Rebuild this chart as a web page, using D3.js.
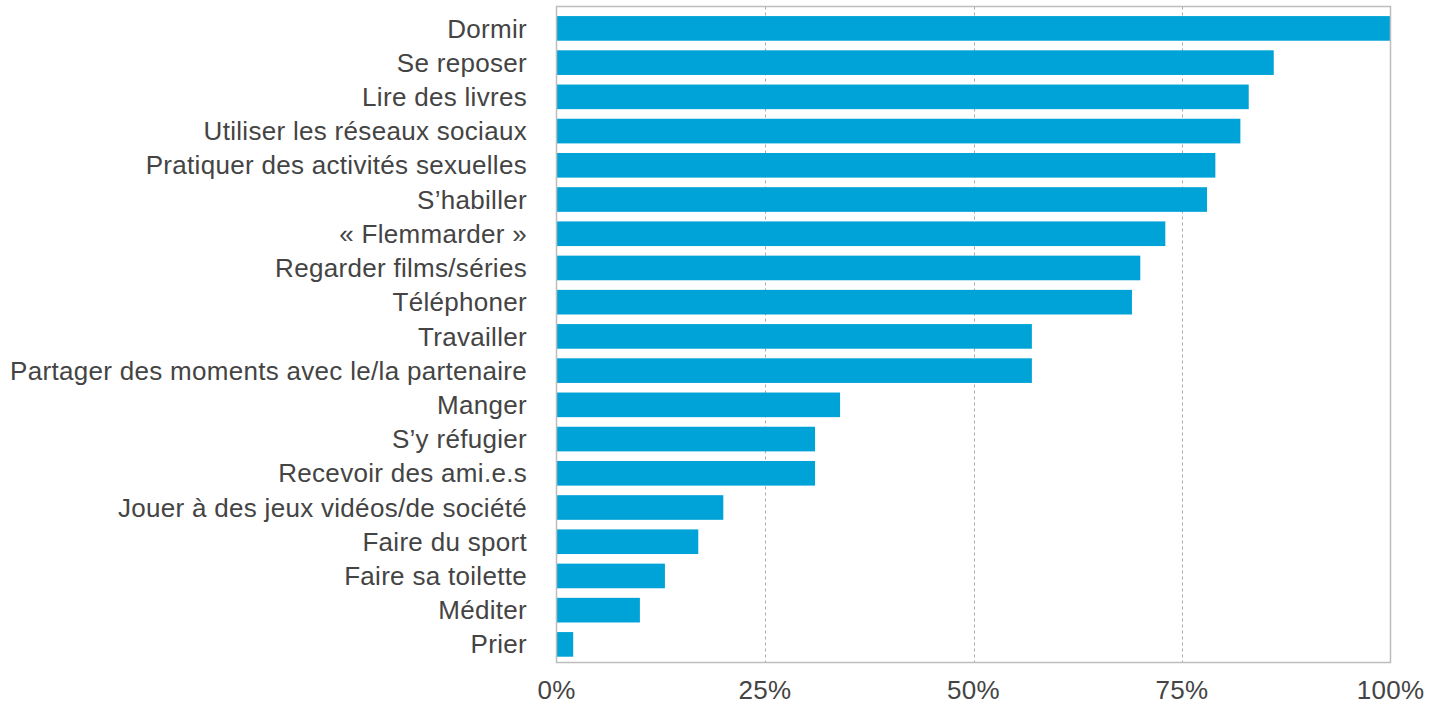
<!DOCTYPE html>
<html>
<head>
<meta charset="utf-8">
<script src="https://cdn.jsdelivr.net/npm/d3@7"></script>
<style>
  body { margin: 0; background: #fff; }
  .lbl { font-family: "Liberation Sans", Arial, sans-serif; font-size: 26px; letter-spacing: 0.3px; fill: #444; }
  .tick-lbl { font-family: "Liberation Sans", Arial, sans-serif; font-size: 26px; letter-spacing: 0.3px; fill: #444; }
</style>
</head>
<body>
<div id="chart"></div>
<script>
var activities = ["Dormir", "Se reposer", "Lire des livres", "Utiliser les réseaux sociaux",
    "Pratiquer des activités sexuelles", "S’habiller", "« Flemmarder »", "Regarder films/séries",
    "Téléphoner", "Travailler", "Partager des moments avec le/la partenaire", "Manger",
    "S’y réfugier", "Recevoir des ami.e.s", "Jouer à des jeux vidéos/de société",
    "Faire du sport", "Faire sa toilette", "Méditer", "Prier"];
var percents = [100, 86, 83, 82, 79, 78, 73, 70, 69, 57, 57, 34, 31, 31, 20, 17, 13, 10, 2];
var ticks = [0, 25, 50, 75, 100];

var width = 1445,
    height = 706,
    plotLeft = 556.5,
    plotRight = 1390.5,
    plotTop = 6.5,
    plotBottom = 662.5;

var data = activities.map(function (a, i) { return { name: a, value: percents[i] }; });

var svg = d3.select("#chart").append("svg")
    .attr("width", width)
    .attr("height", height);

var x = d3.scaleLinear().domain([0, 100]).range([plotLeft, plotRight]);

var y = d3.scaleBand()
    .domain(activities)
    .range([11.3, 661.5])
    .paddingInner(0.28)
    .paddingOuter(0.14);

// dashed grid lines
svg.append("g").selectAll("line")
    .data(ticks.filter(function (t) { return t > 0 && t < 100; }))
    .enter().append("line")
    .attr("x1", function (d) { return Math.round(x(d)) + 0.5; })
    .attr("x2", function (d) { return Math.round(x(d)) + 0.5; })
    .attr("y1", plotTop)
    .attr("y2", plotBottom)
    .attr("stroke", "#aaa")
    .attr("stroke-width", 1)
    .attr("stroke-dasharray", "3,3");

// bars
svg.append("g").selectAll("rect")
    .data(data)
    .enter().append("rect")
    .attr("x", x(0))
    .attr("y", function (d) { return y(d.name); })
    .attr("width", function (d) { return x(d.value) - x(0); })
    .attr("height", y.bandwidth())
    .attr("fill", "#00a3d8");

// frame
svg.append("rect")
    .attr("x", plotLeft)
    .attr("y", plotTop)
    .attr("width", plotRight - plotLeft)
    .attr("height", plotBottom - plotTop)
    .attr("fill", "none")
    .attr("stroke", "#bdbdbd")
    .attr("stroke-width", 1.5);

// category labels
svg.append("g").selectAll("text")
    .data(data)
    .enter().append("text")
    .attr("class", "lbl")
    .attr("x", 527)
    .attr("y", function (d) { return y(d.name) + y.bandwidth() / 2; })
    .attr("dy", ".35em")
    .attr("text-anchor", "end")
    .text(function (d) { return d.name; });

// x tick labels
svg.append("g").selectAll("text")
    .data(ticks)
    .enter().append("text")
    .attr("class", "tick-lbl")
    .attr("x", function (d) { return x(d); })
    .attr("y", 699)
    .attr("text-anchor", "middle")
    .text(function (d) { return d + "%"; });
</script>
</body>
</html>
